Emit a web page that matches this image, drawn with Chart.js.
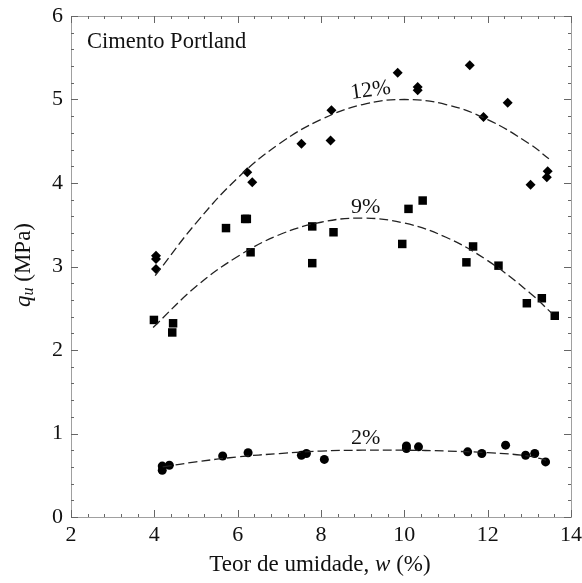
<!DOCTYPE html>
<html>
<head>
<meta charset="utf-8">
<script src="https://cdn.jsdelivr.net/npm/chart.js@4/dist/chart.umd.min.js"></script>
<style>
  html, body { margin: 0; padding: 0; background: #fff; }
  #wrap { width: 582px; height: 583px; }
</style>
</head>
<body>
<div id="wrap"><canvas id="chart"></canvas></div>
<script>
// points
const x12 = [4.04, 4.04, 4.04, 6.23, 6.35, 7.53, 8.23, 8.25, 9.84, 10.32, 10.32, 11.57, 11.9, 12.48, 13.03, 13.42, 13.44];
const y12 = [3.13, 3.09, 2.97, 4.13, 4.01, 4.47, 4.51, 4.87, 5.32, 5.15, 5.11, 5.41, 4.79, 4.96, 3.98, 4.07, 4.14];

const x9 = [3.99, 4.43, 4.45, 5.72, 6.18, 6.22, 6.31, 7.79, 7.79, 8.30, 9.95, 10.10, 10.44, 11.49, 11.65, 12.26, 12.94, 13.30, 13.61];
const y9 = [2.36, 2.21, 2.32, 3.46, 3.57, 3.57, 3.17, 3.48, 3.04, 3.41, 3.27, 3.69, 3.79, 3.05, 3.24, 3.01, 2.56, 2.62, 2.41];

const x2 = [4.19, 4.19, 4.36, 5.64, 6.25, 7.53, 7.65, 8.08, 10.05, 10.05, 10.34, 11.52, 11.86, 12.43, 12.91, 13.13, 13.39];
const y2 = [0.61, 0.56, 0.62, 0.73, 0.77, 0.74, 0.76, 0.69, 0.85, 0.82, 0.84, 0.78, 0.76, 0.86, 0.74, 0.76, 0.66];

// dashed fit curves, read at a few x positions
const fit12X = [4.02, 5, 6, 7, 8, 9, 10, 11, 12, 13, 13.47];
const fit12Y = [2.89, 3.52, 4.06, 4.47, 4.76, 4.94, 5.0, 4.94, 4.76, 4.47, 4.29];
const fit9X = [3.97, 5, 6, 7, 8, 9, 10, 11, 12, 13, 13.54];
const fit9Y = [2.27, 2.76, 3.12, 3.38, 3.53, 3.58, 3.52, 3.35, 3.07, 2.69, 2.44];
const fit2X = [4.2, 5, 6, 7, 8, 9, 10, 11, 12, 13, 13.4];
const fit2Y = [0.60, 0.66, 0.72, 0.76, 0.79, 0.80, 0.80, 0.79, 0.77, 0.73, 0.68];

const xTicks = [2, 4, 6, 8, 10, 12, 14];
const yTicks = [0, 1, 2, 3, 4, 5, 6];

const curveLabels = [
  { text: '12%', x: 9.21, y: 5.04, rot: -8 },
  { text: '9%', x: 9.07, y: 3.64, rot: 0 },
  { text: '2%', x: 9.07, y: 0.87, rot: 0 }
];

const serif = '"Liberation Serif", "DejaVu Serif", serif';
const pts = (xs, ys) => xs.map((x, i) => ({ x: x, y: ys[i] }));

const frame = {
  id: 'frame',
  afterDraw(chart) {
    const { ctx, chartArea: a, scales: { x, y } } = chart;
    ctx.save();
    ctx.strokeStyle = '#a0a0a0';
    ctx.lineWidth = 1;
    ctx.strokeRect(a.left + 0.5, a.top + 0.5, a.right - a.left, a.bottom - a.top);
    ctx.strokeStyle = '#666';
    ctx.beginPath();
    for (let i = 0; i <= 30; i++) {
      const px = Math.round(x.getPixelForValue(2 + i * 0.4)) + 0.5;
      const len = i % 5 === 0 ? 7 : 3;
      ctx.moveTo(px, a.bottom); ctx.lineTo(px, a.bottom - len);
      ctx.moveTo(px, a.top); ctx.lineTo(px, a.top + len);
    }
    for (let i = 0; i <= 30; i++) {
      const py = Math.round(y.getPixelForValue(i * 0.2)) + 0.5;
      const len = i % 5 === 0 ? 7 : 3;
      ctx.moveTo(a.left, py); ctx.lineTo(a.left + len, py);
      ctx.moveTo(a.right, py); ctx.lineTo(a.right - len, py);
    }
    ctx.stroke();

    ctx.fillStyle = '#111';
    ctx.textBaseline = 'alphabetic';
    // panel title
    ctx.font = '22.5px ' + serif;
    ctx.textAlign = 'left';
    ctx.fillText('Cimento Portland', 87, 48);

    // curve labels
    ctx.font = '22px ' + serif;
    ctx.textAlign = 'center';
    curveLabels.forEach(l => {
      ctx.save();
      ctx.translate(x.getPixelForValue(l.x), y.getPixelForValue(l.y));
      ctx.rotate(l.rot * Math.PI / 180);
      ctx.fillText(l.text, 0, 0);
      ctx.restore();
    });

    // x axis title with italic w
    const parts = [['Teor de umidade, ', ''], ['w', 'italic '], [' (%)', '']];
    let total = 0;
    parts.forEach(p => { ctx.font = p[1] + '23px ' + serif; total += ctx.measureText(p[0]).width; });
    let cx = 320 - total / 2;
    ctx.textAlign = 'left';
    parts.forEach(p => {
      ctx.font = p[1] + '23px ' + serif;
      ctx.fillText(p[0], cx, 571);
      cx += ctx.measureText(p[0]).width;
    });

    // y axis title: q_u (MPa)
    ctx.save();
    ctx.translate(30, 265);
    ctx.rotate(-Math.PI / 2);
    ctx.font = 'italic 23px ' + serif;
    const wq = ctx.measureText('q').width;
    ctx.font = 'italic 16px ' + serif;
    const wu = ctx.measureText('u').width;
    ctx.font = '23px ' + serif;
    const wm = ctx.measureText(' (MPa)').width;
    let sx = -(wq + wu + wm) / 2;
    ctx.font = 'italic 23px ' + serif;
    ctx.fillText('q', sx, 0); sx += wq;
    ctx.font = 'italic 16px ' + serif;
    ctx.fillText('u', sx, 3); sx += wu;
    ctx.font = '23px ' + serif;
    ctx.fillText(' (MPa)', sx, 0);
    ctx.restore();
    ctx.restore();
  }
};

const dashed = (xs, ys) => ({
  type: 'line',
  data: pts(xs, ys),
  borderColor: '#222',
  borderWidth: 1.3,
  borderDash: [9, 4],
  pointRadius: 0,
  fill: false,
  tension: 0.4
});

const noPad = s => { s.paddingLeft = 0; s.paddingRight = 0; s.paddingTop = 0; s.paddingBottom = 0; };

new Chart(document.getElementById('chart').getContext('2d'), {
  type: 'scatter',
  plugins: [frame],
  data: {
    datasets: [
      dashed(fit12X, fit12Y),
      dashed(fit9X, fit9Y),
      dashed(fit2X, fit2Y),
      { data: pts(x12, y12), pointStyle: 'rectRot', pointRadius: 5, backgroundColor: '#000', borderColor: '#000', borderWidth: 0 },
      { data: pts(x9, y9), pointStyle: 'rect', pointRadius: 6, backgroundColor: '#000', borderColor: '#000', borderWidth: 0 },
      { data: pts(x2, y2), pointStyle: 'circle', pointRadius: 4.5, backgroundColor: '#000', borderColor: '#000', borderWidth: 0 }
    ]
  },
  options: {
    responsive: true,
    maintainAspectRatio: false,
    animation: false,
    layout: { padding: { top: 16, right: 11, left: 0, bottom: 0 } },
    plugins: { legend: { display: false }, tooltip: { enabled: false } },
    scales: {
      x: {
        type: 'linear', min: 2, max: 14,
        afterBuildTicks: s => { s.ticks = xTicks.map(v => ({ value: v })); },
        afterFit: s => { s.height = 66; noPad(s); },
        grid: { display: false, drawTicks: false },
        border: { display: false },
        ticks: { color: '#111', font: { family: serif, size: 22 }, padding: 5 }
      },
      y: {
        type: 'linear', min: 0, max: 6,
        afterBuildTicks: s => { s.ticks = yTicks.map(v => ({ value: v })); },
        afterFit: s => { s.width = 71; noPad(s); },
        grid: { display: false, drawTicks: false },
        border: { display: false },
        ticks: { color: '#111', font: { family: serif, size: 22 }, padding: 8 }
      }
    }
  }
});
</script>
</body>
</html>
